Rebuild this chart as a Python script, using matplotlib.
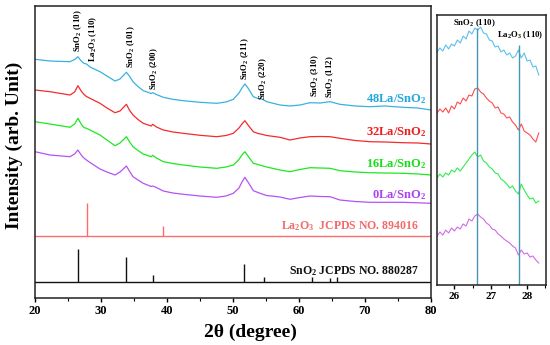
import matplotlib
matplotlib.use("Agg")
import matplotlib.pyplot as plt
from matplotlib.ticker import MultipleLocator

plt.rcParams['font.family'] = ['Liberation Serif', 'DejaVu Serif']
plt.rcParams['font.weight'] = 'bold'
plt.rcParams['mathtext.fontset'] = 'custom'
plt.rcParams['mathtext.rm'] = 'Liberation Serif:bold'
plt.rcParams['mathtext.it'] = 'Liberation Serif:bold'
plt.rcParams['mathtext.bf'] = 'Liberation Serif:bold'
plt.rcParams['mathtext.default'] = 'regular'

# Patrones XRD (2theta en grados, intensidad en unidades arbitrarias)
tt = [20.0, 22.27, 25.3, 26.0, 26.5, 27.0, 27.4, 27.8, 28.33, 29.85, 30.9, 32.12, 32.88,
      33.85, 34.3, 34.85, 35.6, 36.4, 37.6, 37.83, 38.4, 39.44, 40.9, 42.47, 45.0, 47.53,
      48.94, 50.05, 50.9, 51.36, 51.8, 52.27, 53.08, 53.79, 54.4, 55.1, 57.12, 58.64, 60.15,
      61.67, 63.2, 64.7, 66.2, 68.5, 70.76, 73.0, 75.76, 78.0, 80.0]

i_48la = [238.7, 237, 236.3, 238.5, 241.3, 237, 234.7, 234, 231, 226.3, 222, 217, 219,
          225.7, 222, 216.3, 211.5, 207.3, 204.5, 205.3, 203.5, 200.7, 198.7, 197.3, 195.7, 194.7,
          196, 198.7, 205, 210, 214, 210, 201.3, 199.5, 199, 196.3, 193, 192, 193,
          195.3, 195, 196.3, 193.7, 192, 191.3, 192, 190.7, 190, 188]
i_32la = [208, 206.3, 203, 206, 212.3, 207, 203.7, 201.5, 199.7, 194.7, 190, 185.3, 187,
          193.7, 188, 183, 178.5, 174.7, 172, 173.7, 171, 168, 166, 164.7, 162.7, 161.3,
          162.5, 164.7, 170, 174, 177.3, 173, 166.3, 164.5, 163.7, 162.5, 160.7, 158, 160,
          161.3, 161.5, 161.3, 159.7, 157.5, 156.3, 156, 155.3, 155, 154]
i_16la = [176.3, 174, 170.7, 174, 179.7, 174, 170.5, 169.7, 168, 163, 158, 152.3, 155,
          161.3, 156.5, 151.3, 147.5, 144, 141.3, 142.7, 140, 136.3, 134.5, 133, 131, 129.7,
          131, 133, 138.5, 143, 146.3, 142, 134.7, 133.5, 132.3, 131, 128, 126.3, 128.5,
          130.3, 130, 129.7, 127.3, 126, 125.3, 125, 124.7, 124, 123]
i_0la = [146.3, 143, 141.3, 144, 148, 143, 140, 138, 135.5, 129, 126, 123, 126,
         132, 127, 121.3, 118, 114.7, 111.5, 112, 110.5, 107, 105, 103.7, 102, 100.7,
         102, 104.7, 110, 116, 120.7, 116, 107.3, 105.5, 104, 102.5, 101, 98.7, 100.5,
         102, 101.5, 101.3, 98, 96.5, 95.7, 95.7, 95.7, 95.2, 94.7]

# Tarjetas JCPDS
la2o3_pos = [27.9, 39.4]
la2o3_top = [94.7, 72]
la2o3_base = 62
sno2_pos = [26.56, 33.8, 37.9, 51.6, 54.7, 61.9, 64.7, 65.8]
sno2_top = [48.7, 41, 23, 34, 20.7, 20.7, 20.3, 21]
sno2_base = 16

# Etiquetas de picos (posicion, altura de la base del texto)
picos = [("SnO$_2$ (110)", 26.5, 246), ("La$_2$O$_3$ (110)", 28.8, 236),
         ("SnO$_2$ (101)", 34.6, 230), ("SnO$_2$ (200)", 38.0, 208),
         ("SnO$_2$ (211)", 51.8, 218), ("SnO$_2$ (220)", 54.6, 198),
         ("SnO$_2$ (310)", 62.4, 201), ("SnO$_2$ (112)", 64.8, 200)]

# Ampliacion 25.5-28.5
tt_z = [25.52, 25.60, 25.68, 25.76, 25.84, 25.92, 26.00, 26.08, 26.16, 26.24, 26.32, 26.40,
        26.48, 26.56, 26.64, 26.72, 26.80, 26.88, 26.96, 27.04, 27.12, 27.20, 27.28, 27.36,
        27.44, 27.52, 27.60, 27.68, 27.76, 27.84, 27.92, 28.00, 28.08, 28.16, 28.24, 28.32]
z_48la = [233, 237, 234, 240, 236, 241, 239, 245, 242, 249, 246, 254, 251, 257, 255, 258,
          252, 251, 245, 244, 238, 239, 233, 235, 230, 232, 227, 229, 235, 227, 232, 224,
          225, 218, 219, 210]
z_32la = [172, 176, 173, 177, 172, 179, 176, 183, 181, 187, 184, 190, 189, 196, 197, 193,
          191, 187, 184, 182, 177, 178, 172, 171, 167, 168, 163, 160, 155, 161, 154, 152,
          150, 146, 143, 152]
z_16la = [107, 111, 108, 112, 110, 115, 113, 117, 114, 118, 122, 126, 130, 133, 128, 130,
          124, 122, 118, 116, 112, 111, 106, 104, 101, 97, 99, 94, 91, 101, 95, 90,
          86, 87, 82, 84]
z_0la = [49, 53, 50, 55, 52, 57, 54, 58, 56, 61, 59, 66, 64, 69, 71, 68,
         66, 62, 60, 56, 55, 51, 49, 46, 44, 42, 39, 37, 30, 35, 31, 32,
         28, 29, 25, 22]

muestras = ["48La/SnO$_2$", "32La/SnO$_2$", "16La/SnO$_2$", "0La/SnO$_2$"]
y_etiqueta = [199, 166, 134, 102.5]
colores = ['#38b2de', '#f52a2a', '#1ee81e', '#b552f5']
colores_txt = ['#22a8dc', '#ee1c1c', '#18dd18', '#a845ee']
colores_z = ['#5cc0ea', '#ff4c4c', '#30ec50', '#d36ae8']

fig = plt.figure(figsize=(5.5, 3.45), dpi=100)
ax = fig.add_axes([35/550, 1-298/345, 396/550, 292/345])
axz = fig.add_axes([437/550, 1-285/345, 109/550, 270/345])

for datos, c in zip([i_48la, i_32la, i_16la, i_0la], colores):
    ax.plot(tt, datos, color=c, lw=0.9)
for nombre, yt, c in zip(muestras, y_etiqueta, colores_txt):
    ax.text(79.3, yt, nombre, color=c, fontsize=9, fontweight='bold', ha='right', va='center')

ax.axhline(la2o3_base, color='#ff6b6b', lw=1.0)
ax.vlines(la2o3_pos, la2o3_base, la2o3_top, color='#ff6b6b', lw=1.0)
ax.axhline(sno2_base, color='#111111', lw=1.0)
ax.vlines(sno2_pos, sno2_base, sno2_top, color='#111111', lw=1.0)
ax.text(78.1, 72, "La$_2$O$_3$  JCPDS NO. 894016", color='#f26a6a', fontsize=8.5,
        fontweight='bold', ha='right', va='center')
ax.text(78.1, 27, "SnO$_2$ JCPDS NO. 880287", color='#111111', fontsize=8.5,
        fontweight='bold', ha='right', va='center')

for txt, x, y in picos:
    ax.text(x, y, txt, rotation=90, fontsize=6.3, fontweight='bold', ha='center', va='bottom')

ax.set_xlim(20, 80)
ax.set_ylim(0, 292)
ax.set_yticks([])
ax.xaxis.set_major_locator(MultipleLocator(10))
ax.xaxis.set_minor_locator(MultipleLocator(5))
ax.tick_params(axis='x', which='major', direction='out', length=3, width=1, labelsize=9, pad=2)
ax.tick_params(axis='x', which='minor', direction='out', length=2, width=0.8)
for lab in ax.get_xticklabels():
    lab.set_fontweight('bold')
for s in ax.spines.values():
    s.set_linewidth(1.1)
    s.set_color('#222222')

# Panel ampliado
for datos, c in zip([z_48la, z_32la, z_16la, z_0la], colores_z):
    axz.plot(tt_z, datos, color=c, lw=0.8)
axz.vlines([26.62, 27.77], [0, 0], [257, 240], color='#4a94b4', lw=1.0)
axz.text(26.55, 261.7, "SnO$_2$ (110)", fontsize=6.3, fontweight='bold', ha='center', va='center')
axz.text(27.8, 250, "La$_2$O$_3$ (110)", fontsize=6.3, fontweight='bold', ha='center', va='center')
axz.set_xlim(25.52, 28.52)
axz.set_ylim(0, 270)
axz.set_yticks([])
axz.xaxis.set_major_locator(MultipleLocator(1))
axz.xaxis.set_minor_locator(MultipleLocator(0.5))
axz.tick_params(axis='x', which='major', direction='out', length=3, width=1, labelsize=8, pad=2)
axz.tick_params(axis='x', which='minor', direction='out', length=2, width=0.8)
for lab in axz.get_xticklabels():
    lab.set_fontweight('bold')
for s in axz.spines.values():
    s.set_linewidth(1.1)
    s.set_color('#222222')

fig.text(250/550, 1-332/345, "2θ (degree)", fontsize=14, fontweight='bold', ha='center', va='center')
fig.text(14/550, 1-145/345, "Intensity (arb. Unit)", fontsize=14, fontweight='bold',
         rotation=90, ha='center', va='center')

fig.savefig("out.png", dpi=100)
